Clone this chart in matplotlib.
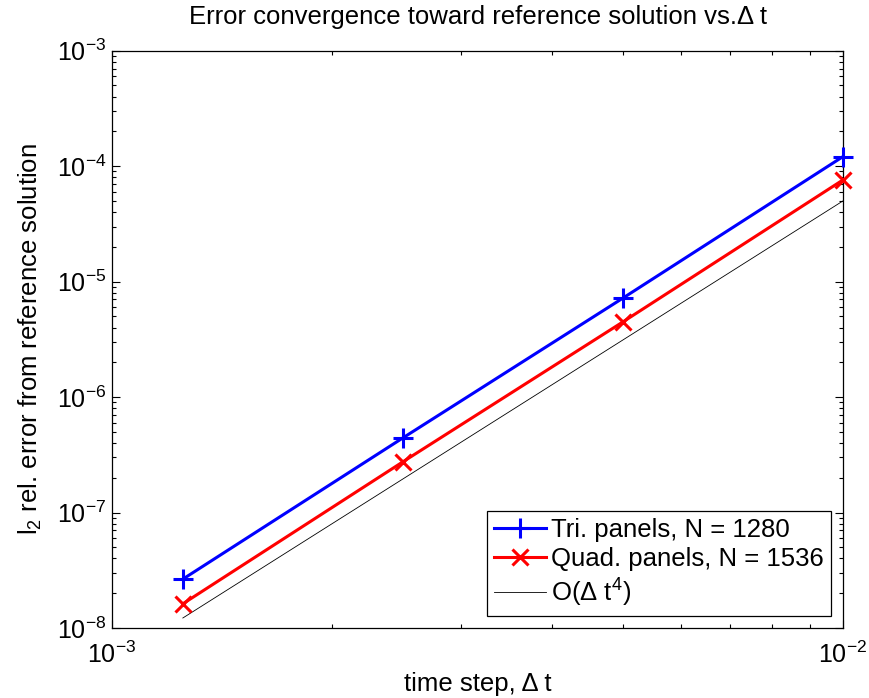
import matplotlib
matplotlib.use("Agg")
import matplotlib.pyplot as plt
import numpy as np
from matplotlib.ticker import LogLocator, LogFormatterMathtext, NullFormatter

plt.rcParams['font.family'] = ['Liberation Sans', 'DejaVu Sans']
plt.rcParams['mathtext.fontset'] = 'custom'
plt.rcParams['mathtext.rm'] = 'Liberation Sans'
plt.rcParams['mathtext.it'] = 'Liberation Sans:italic'
plt.rcParams['mathtext.bf'] = 'Liberation Sans:bold'

dt = [1.25e-3, 2.5e-3, 5e-3, 1e-2]
err_tri = [2.65e-8, 4.43e-7, 7.2e-6, 1.21e-4]
err_quad = [1.62e-8, 2.75e-7, 4.48e-6, 7.6e-5]
ref_coef = 5.0e-5  # O(dt^4) reference value at dt = 1e-2
ref_line = [ref_coef * (d / 1e-2) ** 4 for d in dt]

fig = plt.figure(figsize=(8.69, 6.98), dpi=100)
ax = fig.add_axes([0.1289, 0.1003, 0.9701 - 0.1289, 0.9274 - 0.1003])

ax.loglog(dt, err_tri, '-+', color='#0000ff', lw=2.2, ms=15, mew=2.2,
          label='Tri. panels, N = 1280', clip_on=False, zorder=3)
ax.loglog(dt, err_quad, '-x', color='#ff0000', lw=2.2, ms=12, mew=2.2,
          label='Quad. panels, N = 1536', clip_on=False, zorder=3)
ax.loglog(dt, ref_line, '-', color='black', lw=0.6, label='O(Δ t$^4$)')

ax.set_xlim(1e-3, 1e-2)
ax.set_ylim(1e-8, 1e-3)
fs = 18.5
tfs = 18
ax.xaxis.set_major_locator(LogLocator(base=10, numticks=10))
ax.yaxis.set_major_locator(LogLocator(base=10, numticks=10))
ax.xaxis.set_minor_locator(LogLocator(base=10, subs=np.arange(2, 10), numticks=20))
ax.yaxis.set_minor_locator(LogLocator(base=10, subs=np.arange(2, 10), numticks=20))
ax.xaxis.set_minor_formatter(NullFormatter())
ax.yaxis.set_minor_formatter(NullFormatter())
ax.xaxis.set_major_formatter(LogFormatterMathtext())
ax.yaxis.set_major_formatter(LogFormatterMathtext())
ax.tick_params(which='both', direction='in', top=True, right=True, labelsize=tfs, width=0.8)
ax.tick_params(which='major', length=6)
ax.tick_params(axis='x', which='major', pad=10)
ax.tick_params(axis='y', which='major', pad=4)
ax.tick_params(which='minor', length=3)
for s in ax.spines.values():
    s.set_linewidth(0.9)

ax.set_xlabel('time step, Δ t', fontsize=fs, labelpad=3)
ax.set_ylabel('l$_2$ rel. error from reference solution', fontsize=fs, labelpad=9)
ax.set_title('Error convergence toward reference solution vs.Δ t', fontsize=fs, pad=19)

leg = ax.legend(loc='lower right', fontsize=fs, fancybox=False, edgecolor='black',
                framealpha=1, borderpad=0.3, handlelength=2.0, handletextpad=0.2,
                labelspacing=0.2, borderaxespad=0.45)
leg.get_frame().set_linewidth(0.9)

fig.savefig('out.png', dpi=100)
